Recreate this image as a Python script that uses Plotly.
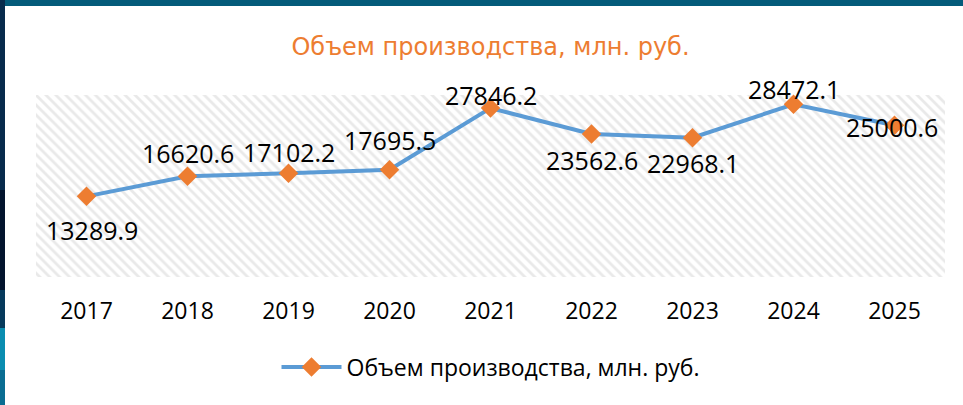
import plotly.graph_objects as go

years = ["2017", "2018", "2019", "2020", "2021", "2022", "2023", "2024", "2025"]
values = [13289.9, 16620.6, 17102.2, 17695.5, 27846.2, 23562.6, 22968.1, 28472.1, 25000.6]
# label offsets (pixels) relative to each point: style only
label_dx = [5, 0, 0, 0, 0, 0, 0, 0, -3]
label_dy = [-34, 23, 21, 30, 13, -26, -25, 15, -2]
series_name = "Объем производства, млн. руб."
title_text = "Объем производства, млн. руб."

W, H = 963, 405
ML, MR, MT, MB = 36, 18, 95, 128
PW, PH = W - ML - MR, H - MT - MB

def px(x):
    return (x - ML) / PW

def py(y):
    return (H - MB - y) / PH

fig = go.Figure()

# hatched plot-area background (decoration) on the base axes
fig.add_trace(go.Bar(
    x=[0.5], y=[1], width=[1], xaxis="x", yaxis="y",
    marker=dict(color="white", line=dict(width=0),
                pattern=dict(shape="\\", fgcolor="#d4d4d4", bgcolor="white",
                             size=7, solidity=0.4)),
    hoverinfo="skip", showlegend=False,
))

# data series on overlay axes (drawn above)
fig.add_trace(go.Scatter(
    x=years, y=values, name=series_name, xaxis="x2", yaxis="y2",
    mode="lines+markers",
    line=dict(color="#5B9BD5", width=4),
    marker=dict(symbol="diamond", color="#ED7D31", size=15, line=dict(width=0)),
    cliponaxis=False,
))

# on a category axis annotations take the category's serial index
annotations = [
    dict(x=i, y=v, xref="x2", yref="y2", text=f"{v:.1f}", showarrow=False,
         xshift=dx, yshift=dy, xanchor="center", yanchor="middle",
         font=dict(family="Open Sans", size=25, color="#000000"))
    for i, (v, dx, dy) in enumerate(zip(values, label_dx, label_dy))
]

shapes = [
    dict(type="rect", xref="paper", yref="paper", x0=px(0), x1=px(W), y0=py(6), y1=py(0),
         fillcolor="#045b7a", line=dict(width=0), layer="above"),
    dict(type="rect", xref="paper", yref="paper", x0=px(0), x1=px(5), y0=py(190), y1=py(0),
         fillcolor="#072b4c", line=dict(width=0), layer="above"),
    dict(type="rect", xref="paper", yref="paper", x0=px(0), x1=px(5), y0=py(290), y1=py(190),
         fillcolor="#03142e", line=dict(width=0), layer="above"),
    dict(type="rect", xref="paper", yref="paper", x0=px(0), x1=px(5), y0=py(328), y1=py(290),
         fillcolor="#063a5c", line=dict(width=0), layer="above"),
    dict(type="rect", xref="paper", yref="paper", x0=px(0), x1=px(5), y0=py(370), y1=py(328),
         fillcolor="#0a8db0", line=dict(width=0), layer="above"),
    dict(type="rect", xref="paper", yref="paper", x0=px(0), x1=px(5), y0=py(405), y1=py(370),
         fillcolor="#0a6d92", line=dict(width=0), layer="above"),
]

fig.update_layout(
    width=W, height=H,
    margin=dict(l=ML, r=MR, t=MT, b=MB),
    paper_bgcolor="white", plot_bgcolor="rgba(0,0,0,0)",
    title=dict(text=title_text, x=0.5, xref="paper", xanchor="center",
               y=1 - 47 / H, yref="container", yanchor="middle",
               font=dict(family="DejaVu Sans", size=24, color="#ED7D31")),
    xaxis=dict(range=[0, 1], visible=False, fixedrange=True),
    yaxis=dict(range=[0, 1], visible=False, fixedrange=True),
    xaxis2=dict(type="category", overlaying="x", side="bottom",
                range=[-0.5, len(years) - 0.5],
                showgrid=False, zeroline=False, showline=False,
                ticks="", ticklabelstandoff=18,
                tickfont=dict(family="Open Sans", size=23, color="#000000")),
    yaxis2=dict(range=[0, 30000], overlaying="y", showgrid=False, zeroline=False,
                showticklabels=False),
    showlegend=True,
    legend=dict(orientation="h", x=0.5, xanchor="center", y=py(367), yanchor="middle",
                font=dict(family="Open Sans", size=23, color="#000000"),
                itemwidth=60),
    annotations=annotations,
    shapes=shapes,
    bargap=0,
)

fig.write_html("out.html")
